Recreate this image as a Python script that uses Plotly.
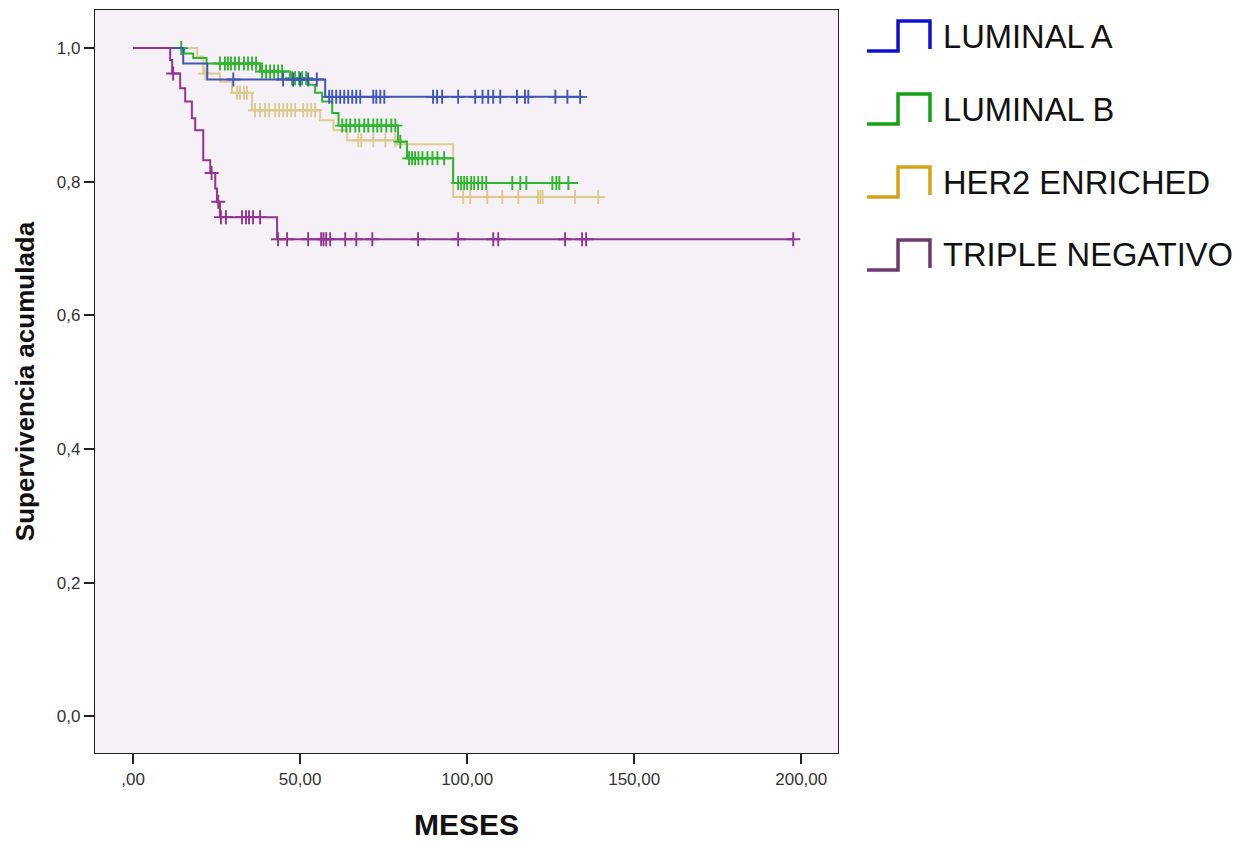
import bisect
import plotly.graph_objects as go

# Kaplan-Meier estimates per molecular subtype: step times (months) and survival after each step
lumA_times = [0, 15.0, 22.2, 57.5]
lumA_surv = [1.0, 0.977, 0.953, 0.927]
lumA_end = 134.7
lumA_cens = [30.0, 44.9, 47.9, 50.0, 52.4, 55.0,
             58.7, 59.6, 60.8, 62.0, 63.2, 64.4, 65.6, 66.8, 68.0,
             71.9, 72.8, 74.0, 75.2, 89.8, 91.0, 92.5, 97.3, 102.4, 104.6,
             106.3, 107.8, 109.9, 114.9, 117.3, 118.3, 126.4, 130.0, 133.8]

lumB_times = [0, 15.3, 18.0, 22.0, 38.0, 47.0, 52.5, 54.5, 56.6, 59.6, 61.5, 79.3, 82.0, 95.8]
lumB_surv = [1.0, 0.992, 0.985, 0.977, 0.965, 0.955, 0.945, 0.933, 0.92, 0.903, 0.884, 0.86, 0.835, 0.798]
lumB_end = 133.2
lumB_cens = [14.4, 26.0, 27.5, 28.4, 29.3, 30.5, 31.7, 33.2, 34.4, 35.6, 36.8,
             38.6, 39.8, 41.0, 42.2, 43.4, 44.6, 47.6, 48.5, 49.7, 50.6, 51.8,
             62.6, 63.8, 65.0, 66.5, 67.7, 69.2, 70.4, 71.9, 73.1, 74.3, 75.8, 77.3, 78.5,
             80.0, 82.6, 83.5, 84.4, 85.4, 86.6, 88.1, 89.6, 91.1, 93.1,
             97.3, 98.2, 99.1, 100.0, 101.2, 102.1, 103.3, 104.5, 105.7,
             113.5, 115.9, 117.7, 125.5, 126.7, 127.6, 130.3]

her2_times = [0, 19.2, 21.0, 26.0, 29.6, 35.6, 56.0, 60.0, 64.1, 79.0, 95.8]
her2_surv = [1.0, 0.987, 0.962, 0.95, 0.933, 0.907, 0.892, 0.877, 0.862, 0.856, 0.777]
her2_end = 140.7
her2_cens = [21.6, 31.1, 32.0, 33.2, 34.1,
             36.5, 38.0, 39.5, 40.7, 42.5, 43.7, 44.9, 46.1, 47.3, 48.5, 50.9, 52.1, 53.3, 54.5,
             67.4, 68.3, 71.9, 75.5, 78.4,
             98.8, 100.9, 106.0, 110.5, 115.3, 121.2, 121.9, 122.6, 132.3, 139.2]

tn_times = [0, 11.1, 11.7, 14.1, 15.6, 17.6, 18.6, 21.0, 23.1, 24.6, 25.1, 26.0, 43.1]
tn_surv = [1.0, 0.982, 0.962, 0.94, 0.92, 0.895, 0.877, 0.832, 0.813, 0.79, 0.77, 0.747, 0.714]
tn_end = 197.6
tn_cens = [12.0, 23.5, 25.5, 26.3, 27.8, 32.6, 33.8, 34.7, 35.9, 38.0,
           43.4, 46.1, 52.4, 56.3, 57.0, 57.8, 59.0, 63.5, 66.8, 71.6,
           85.3, 97.3, 107.8, 109.3, 129.3, 134.4, 135.6, 197.6]

group_names = ["LUMINAL A", "LUMINAL B", "HER2 ENRICHED", "TRIPLE NEGATIVO"]
curve_colors = ["#3f55b8", "#2fb52f", "#dccb8e", "#913593"]
legend_colors = ["#1010d0", "#15a015", "#d4a414", "#6e3a70"]

x_ticks = [0, 50, 100, 150, 200]
x_ticklabels = [",00", "50,00", "100,00", "150,00", "200,00"]
y_ticks = [0.0, 0.2, 0.4, 0.6, 0.8, 1.0]
y_ticklabels = ["0,0", "0,2", "0,4", "0,6", "0,8", "1,0"]

groups = [
    (lumA_times, lumA_surv, lumA_end, lumA_cens),
    (lumB_times, lumB_surv, lumB_end, lumB_cens),
    (her2_times, her2_surv, her2_end, her2_cens),
    (tn_times, tn_surv, tn_end, tn_cens),
]


def surv_at(times, surv, t):
    i = bisect.bisect_right(times, t) - 1
    return surv[max(i, 0)]


fig = go.Figure()
# draw order: HER2 and Luminal B under Luminal A, triple negative on top
for idx in [2, 1, 0, 3]:
    times, surv, end, cens = groups[idx]
    col = curve_colors[idx]
    fig.add_trace(go.Scatter(
        x=times + [end], y=surv + [surv[-1]], mode="lines",
        line=dict(color=col, width=2, shape="hv"),
        showlegend=False, hoverinfo="skip"))
    fig.add_trace(go.Scatter(
        x=cens, y=[surv_at(times, surv, c) for c in cens], mode="markers",
        marker=dict(symbol="cross-thin", size=10, line=dict(color=col, width=1.9)),
        showlegend=False, hoverinfo="skip"))

W, H = 1243, 841
L, R, T, B = 95, 838, 10, 753


def px(x):
    return (x - L) / (R - L)


def py(y):
    return (B - y) / (B - T)


# step-shaped legend keys drawn beside the plot
shapes = []
annotations = []
row_centers = [36, 109, 182, 255]
for name, col, yc in zip(group_names, legend_colors, row_centers):
    path = "M {:.4f} {:.4f} L {:.4f} {:.4f} L {:.4f} {:.4f} L {:.4f} {:.4f} L {:.4f} {:.4f}".format(
        px(867), py(yc + 15), px(898), py(yc + 15), px(898), py(yc - 15),
        px(930), py(yc - 15), px(930), py(yc + 13))
    shapes.append(dict(type="path", path=path, xref="paper", yref="paper",
                       line=dict(color=col, width=3.5)))
    annotations.append(dict(text=name, x=px(941), y=py(yc), xref="paper", yref="paper",
                            xanchor="left", yanchor="middle", showarrow=False,
                            font=dict(family="Liberation Sans, Arial", size=32.7, color="#111111")))

fig.update_layout(
    width=W, height=H,
    margin=dict(l=L, r=W - R, t=T, b=H - B),
    paper_bgcolor="white", plot_bgcolor="#f6f1f6",
    shapes=shapes, annotations=annotations,
    font=dict(family="Liberation Sans, Arial", color="#222222"),
)
fig.update_xaxes(
    range=[-11.4, 211], tickvals=x_ticks, ticktext=x_ticklabels,
    ticks="outside", ticklen=10, tickwidth=1.5, tickcolor="#222222",
    showline=True, linecolor="#222222", linewidth=1.2, mirror=True,
    showgrid=False, zeroline=False, tickfont=dict(size=17, color="#333333"),
    automargin=False,
    title=dict(text="<b>MESES</b>", font=dict(size=30, color="#111111"), standoff=30),
)
fig.update_yaxes(
    range=[-0.055, 1.057], tickvals=y_ticks, ticktext=y_ticklabels,
    ticks="outside", ticklen=10, tickwidth=1.5, tickcolor="#222222",
    showline=True, linecolor="#222222", linewidth=1.2, mirror=True,
    showgrid=False, zeroline=False, tickfont=dict(size=17, color="#333333"),
    automargin=False,
    title=dict(text="<b>Supervivencia acumulada</b>", font=dict(size=26, color="#111111"), standoff=14),
)

fig.write_html("out.html")
